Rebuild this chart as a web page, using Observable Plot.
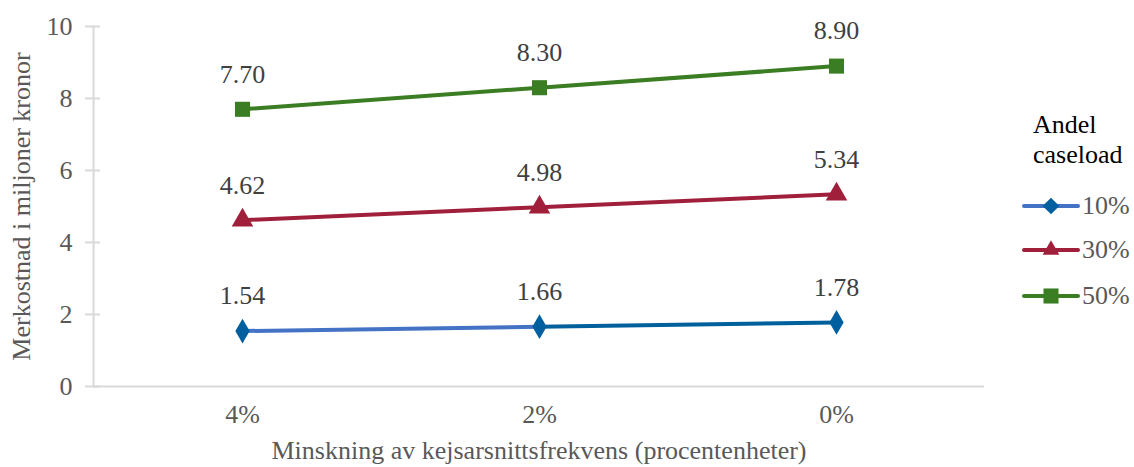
<!DOCTYPE html>
<html><head><meta charset="utf-8">
<script src="https://cdn.jsdelivr.net/npm/d3@7"></script>
<script src="https://cdn.jsdelivr.net/npm/@observablehq/plot@0.6"></script>
<style>
body{margin:0;background:#fff;}
#wrap{position:relative;width:1134px;height:467px;overflow:hidden;}
#legend{position:absolute;left:1020px;top:0;width:114px;height:467px;}
#legend .title{position:absolute;left:13px;top:110px;font-size:26px;line-height:30px;color:#000;}
#legend .item{position:absolute;left:0;height:30px;display:flex;align-items:center;font-size:26px;color:#595959;}
</style></head>
<body><div id="wrap"><div id="chart"></div><div id="legend"></div></div>
<script>
const categories = ["4%", "2%", "0%"];
const seriesNames = ["10%", "30%", "50%"];
const values10 = [1.54, 1.66, 1.78];
const values30 = [4.62, 4.98, 5.34];
const values50 = [7.70, 8.30, 8.90];
const yTicks = [0, 2, 4, 6, 8, 10];
const xTitle = "Minskning av kejsarsnittsfrekvens (procentenheter)";
const yTitle = "Merkostnad i miljoner kronor";
const legendTitle = ["Andel", "caseload"];

const colors = {"10%": "#005F9E", "30%": "#A0203C", "50%": "#3A7D22"};
const blueSegColors = ["#4472C4", "#00609C"];
const symbols = {"10%": "diamond", "30%": "triangle", "50%": "square"};
const radii = {"10%": 7.5, "30%": 8, "50%": 8.5};

const allValues = [values10, values30, values50];
const rows = [];
seriesNames.forEach((s, si) => categories.forEach((c, ci) => rows.push({series: s, cat: c, value: allValues[si][ci]})));

const blueSegs = categories.slice(0, -1).map((c, i) => ({x1: c, x2: categories[i + 1], y1: values10[i], y2: values10[i + 1], color: blueSegColors[i]}));

const font = '"Liberation Serif"';
document.body.style.fontFamily = font;
const marks = [
  Plot.ruleY([0], {stroke: "#d9d9d9", strokeWidth: 2}),
  Plot.frame({anchor: "left", stroke: "#d9d9d9", strokeWidth: 2}),
  Plot.axisY({ticks: yTicks, tickSize: 15, dx: 7, tickFormat: () => "", stroke: "#d9d9d9", strokeWidth: 2, label: null}),
  Plot.axisY({ticks: yTicks, tickSize: 0, tickPadding: 21, fill: "#595959", fontSize: 26, label: yTitle, labelArrow: "none", labelAnchor: "center", labelOffset: 82}),
  Plot.axisX({tickSize: 0, tickPadding: 18, fill: "#595959", fontSize: 26, label: xTitle, labelArrow: "none", labelAnchor: "center", labelOffset: 72}),
  Plot.link(blueSegs, {x1: "x1", x2: "x2", y1: "y1", y2: "y2", stroke: "color", strokeWidth: 4}),
  Plot.line(rows.filter(d => d.series === "30%"), {x: "cat", y: "value", stroke: colors["30%"], strokeWidth: 4}),
  Plot.line(rows.filter(d => d.series === "50%"), {x: "cat", y: "value", stroke: colors["50%"], strokeWidth: 4}),
  ...seriesNames.map(s => Plot.dot(rows.filter(d => d.series === s), {x: "cat", y: "value", symbol: symbols[s], r: radii[s], fill: colors[s], stroke: "none"})),
  Plot.text(rows, {x: "cat", y: "value", text: d => d.value.toFixed(2), dy: -35, fill: "#404040", fontSize: 26})
];

const chart = Plot.plot({
  width: 1000,
  height: 467,
  marginLeft: 93,
  marginRight: 16,
  marginTop: 26,
  marginBottom: 81,
  style: {fontSize: "26px", color: "#595959", background: "#fff"},
  x: {type: "point", domain: categories, padding: 0.5},
  y: {domain: [0, 10]},
  stroke: {type: "identity"},
  marks
});
chart.style.fontFamily = font;
chart.querySelectorAll("g, text").forEach(t => { t.style.fontFamily = font; });
chart.querySelectorAll("text").forEach(t => { t.textContent = t.textContent.replace(/\s*[↑→]\s*/g, ""); });
document.getElementById("chart").appendChild(chart);

// Legend
const legend = document.getElementById("legend");
legend.style.fontFamily = font;
const title = document.createElement("div");
title.className = "title";
title.innerHTML = legendTitle.join("<br>");
legend.appendChild(title);
const itemTops = [191, 235, 281];
const lineColors = {"10%": "#4472C4", "30%": "#A0203C", "50%": "#3A7D22"};
seriesNames.forEach((s, i) => {
  const item = document.createElement("div");
  item.className = "item";
  item.style.top = itemTops[i] + "px";
  const sw = d3.create("svg").attr("width", 62).attr("height", 30);
  sw.append("line").attr("x1", 4).attr("x2", 58).attr("y1", 15).attr("y2", 15).attr("stroke", lineColors[s]).attr("stroke-width", 4).attr("stroke-linecap", "round");
  const sym = {diamond: d3.symbolDiamond2, triangle: d3.symbolTriangle2, square: d3.symbolSquare}[symbols[s]];
  sw.append("path").attr("transform", "translate(31,15)").attr("d", d3.symbol(sym, Math.PI * radii[s] * radii[s])()).attr("fill", colors[s]);
  item.appendChild(sw.node());
  const lab = document.createElement("span");
  lab.textContent = s;
  item.appendChild(lab);
  legend.appendChild(item);
});
</script></body></html>
